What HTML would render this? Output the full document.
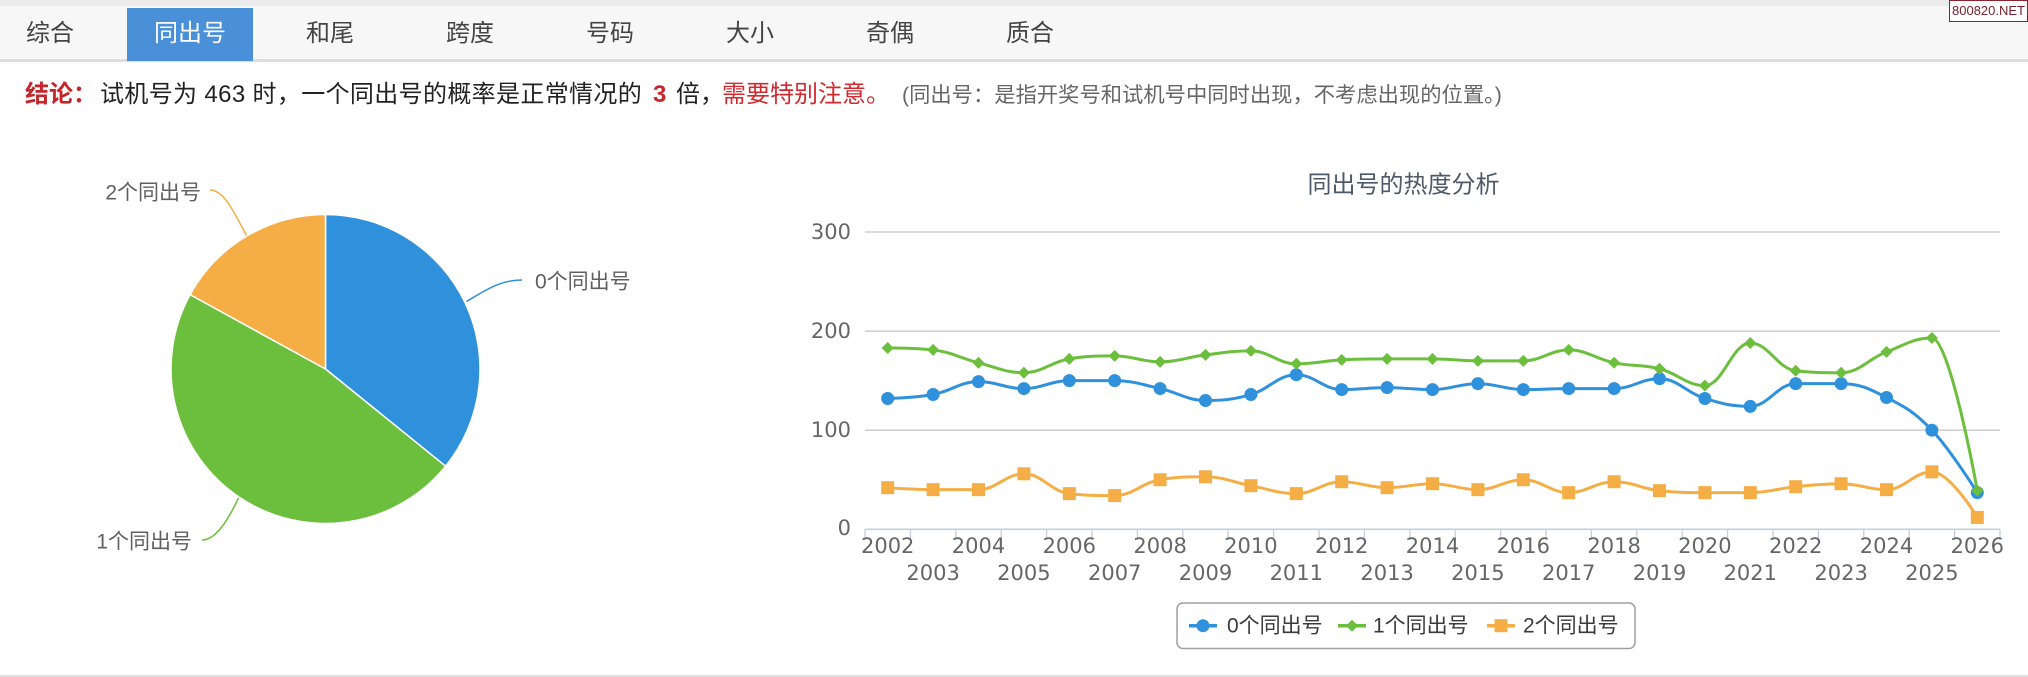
<!DOCTYPE html>
<html><head><meta charset="utf-8">
<style>
html,body{margin:0;padding:0;background:#fff;}
body{width:2028px;height:677px;position:relative;overflow:hidden;font-family:"Liberation Sans","Noto Sans CJK SC",sans-serif;}
.abs{position:absolute;white-space:nowrap;}
.tab{position:absolute;top:8px;height:52px;line-height:52px;width:140px;text-align:center;font-size:24px;color:#444;}
.cl{position:absolute;top:78px;height:34px;line-height:34px;font-size:24px;color:#222;white-space:nowrap;}
</style></head><body>
<div class="abs" style="left:0;top:0;width:2028px;height:6px;background:#ebebeb;"></div>
<div class="abs" style="left:0;top:6px;width:2028px;height:53px;background:#f7f7f7;"></div>
<div class="abs" style="left:0;top:59px;width:2028px;height:3px;background:#dedede;"></div>
<div class="abs" style="left:127px;top:8px;width:126px;height:53px;background:#4a90d9;"></div>
<div class="tab" style="left:-20px;">综合</div>
<div class="tab" style="left:120px;color:#fff;">同出号</div>
<div class="tab" style="left:260px;">和尾</div>
<div class="tab" style="left:400px;">跨度</div>
<div class="tab" style="left:540px;">号码</div>
<div class="tab" style="left:680px;">大小</div>
<div class="tab" style="left:820px;">奇偶</div>
<div class="tab" style="left:960px;">质合</div>
<div class="abs" style="left:1949px;top:0;width:77px;height:20px;border:1px solid #8b2232;background:#fff;color:#7a1f2b;font-size:13px;line-height:20px;text-align:center;">800820.NET</div>

<div class="cl" style="left:25px;color:#c4262b;font-weight:bold;">结论：</div>
<div class="cl" style="left:100px;letter-spacing:0.35px;">试机号为 463 时，一个同出号的概率是正常情况的</div>
<div class="cl" style="left:653px;color:#c4262b;font-weight:bold;">3</div>
<div class="cl" style="left:676px;">倍，</div>
<div class="cl" style="left:722px;color:#d02a2e;">需要特别注意。</div>
<div class="cl" style="left:902px;font-size:21.3px;color:#666;">(同出号：是指开奖号和试机号中同时出现，不考虑出现的位置。)</div>

<div class="abs" style="left:0;top:675px;width:2028px;height:2px;background:#e0e0e0;"></div>

<svg class="abs" style="left:0;top:0;" width="2028" height="677" xmlns="http://www.w3.org/2000/svg">
  <!-- pie -->
  <g stroke="#fff" stroke-width="1.5" stroke-linejoin="round">
    <path d="M325.5 369 L325.5 214.5 A154.5 154.5 0 0 1 445.6 466.2 Z" fill="#2f91db"/>
    <path d="M325.5 369 L445.6 466.2 A154.5 154.5 0 0 1 190.1 294.6 Z" fill="#6cbf3c"/>
    <path d="M325.5 369 L190.1 294.6 A154.5 154.5 0 0 1 325.5 214.5 Z" fill="#f5ae45"/>
  </g>
  <g fill="none" stroke-width="1.5">
    <path d="M522 280 C500 280 486 290 466.5 301.5" stroke="#2f91db"/>
    <path d="M210 190 C224 190 234 212 246.5 235.5" stroke="#f5ae45"/>
    <path d="M202 540 C216 540 228 520 238.5 498" stroke="#6cbf3c"/>
  </g>
  <g font-family="Liberation Sans, Noto Sans CJK SC, sans-serif" font-size="21" fill="#606060" dominant-baseline="central">
    <text x="535" y="282">0个同出号</text>
    <text x="201" y="193" text-anchor="end">2个同出号</text>
    <text x="192" y="542" text-anchor="end">1个同出号</text>
  </g>

  <!-- line chart -->
  <text x="1403.5" y="185" text-anchor="middle" dominant-baseline="central" font-family="Liberation Sans, Noto Sans CJK SC, sans-serif" font-size="24" fill="#4d5a69">同出号的热度分析</text>
  <g stroke="#c8c8c8" stroke-width="1.3">
    <line x1="865" y1="232" x2="2000" y2="232"/>
    <line x1="865" y1="331.2" x2="2000" y2="331.2"/>
    <line x1="865" y1="430.2" x2="2000" y2="430.2"/>
  </g>
  <line x1="865" y1="529.3" x2="2000" y2="529.3" stroke="#c0d0e0" stroke-width="1.5"/>
  <g id="ticks" stroke="#c0d0e0" stroke-width="1.3"></g>
  <g font-family="DejaVu Sans, sans-serif" font-size="21" fill="#666" dominant-baseline="central" text-anchor="end">
    <text x="851" y="232">300</text>
    <text x="851" y="331.2">200</text>
    <text x="851" y="430.2">100</text>
    <text x="851" y="528">0</text>
  </g>
  <g id="xl" font-family="DejaVu Sans, sans-serif" font-size="21" fill="#666" dominant-baseline="central" text-anchor="middle">
    <text x="887.7" y="546">2002</text>
    <text x="933.1" y="573">2003</text>
    <text x="978.5" y="546">2004</text>
    <text x="1023.9" y="573">2005</text>
    <text x="1069.3" y="546">2006</text>
    <text x="1114.7" y="573">2007</text>
    <text x="1160.1" y="546">2008</text>
    <text x="1205.5" y="573">2009</text>
    <text x="1250.9" y="546">2010</text>
    <text x="1296.3" y="573">2011</text>
    <text x="1341.7" y="546">2012</text>
    <text x="1387.1" y="573">2013</text>
    <text x="1432.5" y="546">2014</text>
    <text x="1477.9" y="573">2015</text>
    <text x="1523.3" y="546">2016</text>
    <text x="1568.7" y="573">2017</text>
    <text x="1614.1" y="546">2018</text>
    <text x="1659.5" y="573">2019</text>
    <text x="1704.9" y="546">2020</text>
    <text x="1750.3" y="573">2021</text>
    <text x="1795.7" y="546">2022</text>
    <text x="1841.1" y="573">2023</text>
    <text x="1886.5" y="546">2024</text>
    <text x="1931.9" y="573">2025</text>
    <text x="1977.3" y="546">2026</text>
  </g>
  <g id="series"></g>

  <!-- legend -->
  <rect x="1177" y="603" width="458" height="45.5" rx="6" ry="6" fill="#fff" stroke="#a0a0a0" stroke-width="1.5"/>
  <line x1="1189" y1="625.7" x2="1217" y2="625.7" stroke="#2f91db" stroke-width="3.5"/>
  <circle cx="1203" cy="625.7" r="6.5" fill="#2f91db"/>
  <line x1="1338" y1="625.7" x2="1366" y2="625.7" stroke="#6cbf3c" stroke-width="3.5"/>
  <path d="M1352 619.7 L1358 625.7 L1352 631.7 L1346 625.7 Z" fill="#6cbf3c"/>
  <line x1="1487" y1="625.7" x2="1515" y2="625.7" stroke="#f5ae45" stroke-width="3.5"/>
  <rect x="1494.5" y="619.2" width="13" height="13" fill="#f5ae45"/>
  <g font-family="Liberation Sans, Noto Sans CJK SC, sans-serif" font-size="21" fill="#3a3a3a" dominant-baseline="central">
    <text x="1227" y="626">0个同出号</text>
    <text x="1373" y="626">1个同出号</text>
    <text x="1523" y="626">2个同出号</text>
  </g>
</svg>
<script>
(function(){
  var NS="http://www.w3.org/2000/svg";
  var X0=865, CW=45.4, Y0=529.3, S=0.991;
  function px(i){return X0+CW/2+i*CW;}
  function py(v){return Y0-v*S;}
  var ticks=document.getElementById('ticks');
  for(var k=0;k<=25;k++){
    var l=document.createElementNS(NS,'line');
    var x=X0+k*CW;
    l.setAttribute('x1',x);l.setAttribute('x2',x);
    l.setAttribute('y1',529.3);l.setAttribute('y2',540);
    ticks.appendChild(l);
  }
  function spline(vals){
    var pts=vals.map(function(v,i){return {x:px(i),y:py(v)};});
    var sm=1.5, den=sm+1;
    var d='M'+pts[0].x+' '+pts[0].y;
    for(var i=1;i<pts.length;i++){
      var p=pts[i], l=pts[i-1], n=pts[i+1];
      var lcx=p.x, lcy=p.y;
      if(n){
        lcx=(sm*p.x+l.x)/den; lcy=(sm*p.y+l.y)/den;
        var rcx=(sm*p.x+n.x)/den, rcy=(sm*p.y+n.y)/den;
        var corr=((rcy-lcy)*(rcx-p.x))/(rcx-lcx)+p.y-rcy;
        lcy+=corr; rcy+=corr;
        if(lcy>l.y&&lcy>p.y){lcy=Math.max(l.y,p.y);rcy=2*p.y-lcy;}
        else if(lcy<l.y&&lcy<p.y){lcy=Math.min(l.y,p.y);rcy=2*p.y-lcy;}
        if(rcy>n.y&&rcy>p.y){rcy=Math.max(n.y,p.y);lcy=2*p.y-rcy;}
        else if(rcy<n.y&&rcy<p.y){rcy=Math.min(n.y,p.y);lcy=2*p.y-rcy;}
        p.rcx=rcx;p.rcy=rcy;
      }
      var c1x=(l.rcx!==undefined)?l.rcx:l.x, c1y=(l.rcy!==undefined)?l.rcy:l.y;
      d+=' C'+c1x+' '+c1y+' '+lcx+' '+lcy+' '+p.x+' '+p.y;
    }
    return d;
  }
  var series=[
    {c:'#2f91db',m:'circle',v:[132,136,149,142,150,150,142,130,136,156,141,143,141,147,141,142,142,152,132,124,147,147,133,100,37]},
    {c:'#6cbf3c',m:'diamond',v:[183,181,168,158,172,175,169,176,180,167,171,172,172,170,170,181,168,162,145,188,160,158,179,193,39]},
    {c:'#f5ae45',m:'square',v:[42,40,40,56,36,34,50,53,44,36,48,42,46,40,50,37,48,39,37,37,43,46,40,58,12]}
  ];
  var g=document.getElementById('series');
  series.forEach(function(s){
    var path=document.createElementNS(NS,'path');
    path.setAttribute('d',spline(s.v));
    path.setAttribute('fill','none');
    path.setAttribute('stroke',s.c);
    path.setAttribute('stroke-width','3');
    path.setAttribute('stroke-linejoin','round');
    path.setAttribute('stroke-linecap','round');
    g.appendChild(path);
    s.v.forEach(function(v,i){
      var x=px(i), y=py(v), e;
      if(s.m==='circle'){
        e=document.createElementNS(NS,'circle');
        e.setAttribute('cx',x);e.setAttribute('cy',y);e.setAttribute('r',6.5);
      }else if(s.m==='diamond'){
        e=document.createElementNS(NS,'path');
        e.setAttribute('d','M'+x+' '+(y-6)+' L'+(x+6)+' '+y+' L'+x+' '+(y+6)+' L'+(x-6)+' '+y+' Z');
      }else{
        e=document.createElementNS(NS,'rect');
        e.setAttribute('x',x-6.5);e.setAttribute('y',y-6.5);
        e.setAttribute('width',13);e.setAttribute('height',13);
      }
      e.setAttribute('fill',s.c);
      g.appendChild(e);
    });
  });
})();
</script>
</body></html>
